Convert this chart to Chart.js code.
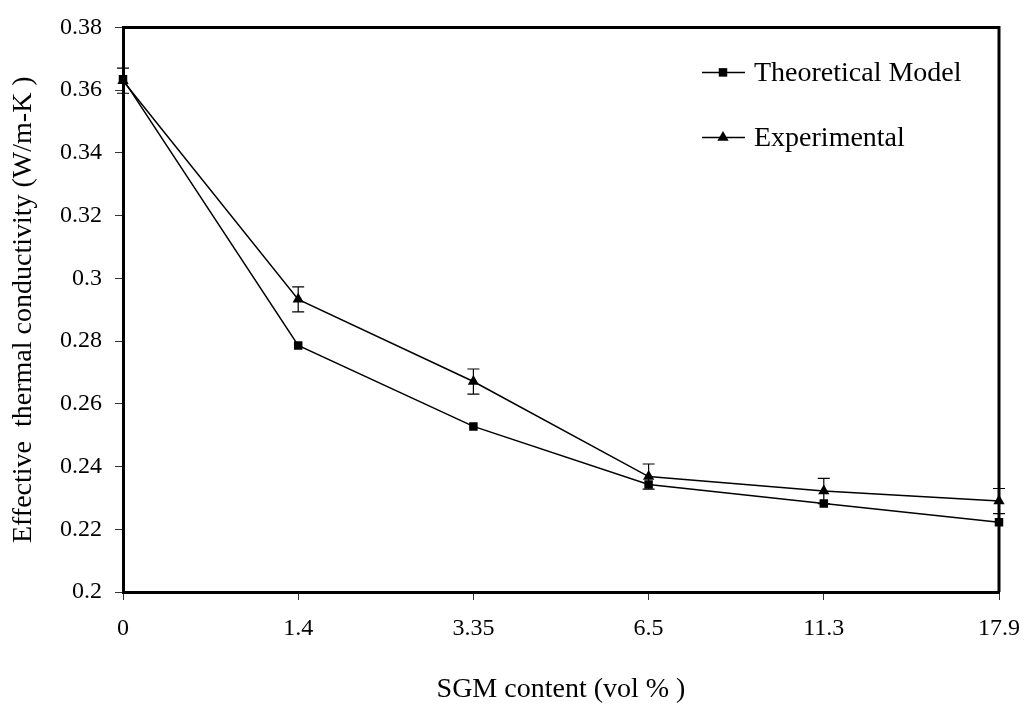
<!DOCTYPE html>
<html>
<head>
<meta charset="utf-8">
<script src="https://cdn.jsdelivr.net/npm/chart.js@4.4.0/dist/chart.umd.min.js"></script>
<style>
  html, body { margin: 0; padding: 0; background: #fff; }
  #wrap { width: 1034px; height: 706px; position: relative; }
</style>
</head>
<body>
<div id="wrap"><canvas id="kChart"></canvas></div>
<script>
// SGM loading (vol %) on the category axis
const sgmContent = ['0', '1.4', '3.35', '6.5', '11.3', '17.9'];

// effective thermal conductivity, W/m-K
const theoretical = [0.3635, 0.2786, 0.2528, 0.2343, 0.2282, 0.2222];
const experimental = [0.363, 0.2933, 0.2671, 0.2368, 0.2322, 0.229];
const experimentalErr = [0.004, 0.004, 0.004, 0.004, 0.004, 0.004];

const yTicks = [0.2, 0.22, 0.24, 0.26, 0.28, 0.3, 0.32, 0.34, 0.36, 0.38];

const SERIF = "'Liberation Serif', 'Times New Roman', serif";
const INK = '#000';

// closes the box around the plot (top + right edges)
const frameBox = {
  id: 'frameBox',
  afterDatasetsDraw(chart) {
    const { ctx, chartArea: a } = chart;
    ctx.save();
    ctx.strokeStyle = INK;
    ctx.lineWidth = 3;
    ctx.beginPath();
    ctx.moveTo(a.left, a.top);
    ctx.lineTo(a.right, a.top);
    ctx.lineTo(a.right, a.bottom);
    ctx.stroke();
    ctx.restore();
  },
};

// +/- bars on the experimental series
const errorBars = {
  id: 'errorBars',
  afterDatasetsDraw(chart) {
    const { ctx } = chart;
    const xs = chart.scales.x, ys = chart.scales.y;
    ctx.save();
    ctx.strokeStyle = INK;
    ctx.lineWidth = 1.2;
    experimental.forEach((v, i) => {
      const x = xs.getPixelForValue(i);
      const yTop = ys.getPixelForValue(v + experimentalErr[i]);
      const yBot = ys.getPixelForValue(v - experimentalErr[i]);
      ctx.beginPath();
      ctx.moveTo(x, yTop); ctx.lineTo(x, yBot);
      ctx.moveTo(x - 6, yTop); ctx.lineTo(x + 6, yTop);
      ctx.moveTo(x - 6, yBot); ctx.lineTo(x + 6, yBot);
      ctx.stroke();
    });
    ctx.restore();
  },
};

// line + marker legend, top right inside the plot
const lineLegend = {
  id: 'lineLegend',
  afterDraw(chart) {
    const { ctx, chartArea: a } = chart;
    const x0 = a.right - 297;
    ctx.save();
    ctx.font = '28px ' + SERIF;
    ctx.textBaseline = 'middle';
    ctx.fillStyle = INK;
    chart.data.datasets.forEach((ds, i) => {
      const y = a.top + 45 + i * 65;
      ctx.strokeStyle = INK;
      ctx.lineWidth = 1.5;
      ctx.beginPath();
      ctx.moveTo(x0, y); ctx.lineTo(x0 + 43, y);
      ctx.stroke();
      Chart.helpers.drawPoint(ctx, {
        pointStyle: ds.pointStyle, radius: ds.pointRadius, borderWidth: 0,
      }, x0 + 21, y);
      ctx.fillText(ds.label, x0 + 52, y + 1);
    });
    ctx.restore();
  },
};

new Chart(document.getElementById('kChart'), {
  type: 'line',
  data: {
    labels: sgmContent,
    datasets: [
      {
        label: 'Theoretical Model',
        data: theoretical,
        borderColor: INK,
        backgroundColor: INK,
        borderWidth: 1.5,
        pointStyle: 'rect',
        pointRadius: 6,
        pointBorderWidth: 0,
        tension: 0,
      },
      {
        label: 'Experimental',
        data: experimental,
        borderColor: INK,
        backgroundColor: INK,
        borderWidth: 1.5,
        pointStyle: 'triangle',
        pointRadius: 6.5,
        pointBorderWidth: 0,
        tension: 0,
      },
    ],
  },
  options: {
    responsive: true,
    maintainAspectRatio: false,
    animation: false,
    layout: { padding: { left: 0, top: 15, right: 27, bottom: 0 } },
    plugins: { legend: { display: false }, tooltip: { enabled: false } },
    scales: {
      x: {
        offset: false,
        afterFit(s) { s.height = 114; },
        grid: { drawOnChartArea: false, drawTicks: true, tickLength: 8, color: '#333', lineWidth: 1 },
        border: { display: true, color: INK, width: 3 },
        ticks: { color: INK, font: { family: SERIF, size: 24 }, padding: 14, maxRotation: 0 },
        title: {
          display: true, text: 'SGM content (vol % )', color: INK,
          font: { family: SERIF, size: 28 }, padding: { top: 19, bottom: 0 },
        },
      },
      y: {
        min: 0.2,
        max: 0.38,
        afterFit(s) { s.width = 123; },
        afterBuildTicks(s) { s.ticks = yTicks.map(v => ({ value: v })); },
        grid: { drawOnChartArea: false, drawTicks: true, tickLength: 8, color: '#333', lineWidth: 1 },
        border: { display: true, color: INK, width: 3 },
        ticks: {
          color: INK, font: { family: SERIF, size: 24 }, padding: 13,
          callback: v => String(Math.round(v * 100) / 100),
        },
        title: {
          display: true, text: 'Effective  thermal conductivity (W/m-K )', color: INK,
          font: { family: SERIF, size: 28 }, padding: { top: 7, bottom: 0 },
        },
      },
    },
  },
  plugins: [frameBox, errorBars, lineLegend],
});
</script>
</body>
</html>
